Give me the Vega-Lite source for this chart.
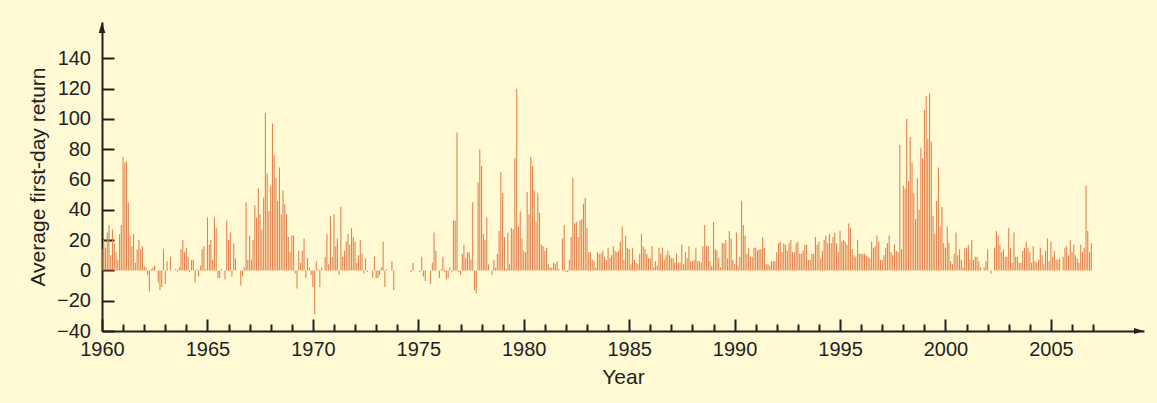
{
  "$schema": "https://vega.github.io/schema/vega-lite/v6.json",
  "width": 1042,
  "height": 309,
  "autosize": {"type": "none"},
  "padding": {"left": 102, "top": 22, "right": 13, "bottom": 72},
  "background": "#FFFAD3",
  "config": {
    "view": {"stroke": null},
    "font": "Liberation Sans",
    "axis": {"labelFont": "Liberation Sans", "titleFont": "Liberation Sans", "labelColor": "#231f20", "titleColor": "#231f20", "domainColor": "#231f20", "tickColor": "#231f20", "grid": false}
  },
  "datasets": {
    "ipo": [
{"d":"1960-01","r":14},{"d":"1960-02","r":20},{"d":"1960-03","r":15},{"d":"1960-04","r":25},{"d":"1960-05","r":30},{"d":"1960-06","r":10},{"d":"1960-07","r":27},{"d":"1960-08","r":18},{"d":"1960-09","r":12},{"d":"1960-10","r":7},{"d":"1960-11","r":24},{"d":"1960-12","r":30},
{"d":"1961-01","r":75},{"d":"1961-02","r":71},{"d":"1961-03","r":72},{"d":"1961-04","r":45},{"d":"1961-05","r":23},{"d":"1961-06","r":16},{"d":"1961-07","r":24},{"d":"1961-08","r":5},{"d":"1961-09","r":14},{"d":"1961-10","r":20},{"d":"1961-11","r":14},{"d":"1961-12","r":16},
{"d":"1962-01","r":3},{"d":"1962-02","r":2},{"d":"1962-03","r":-3},{"d":"1962-04","r":-14},{"d":"1962-05","r":1},{"d":"1962-06","r":2},{"d":"1962-07","r":3},{"d":"1962-08","r":0},{"d":"1962-09","r":-8},{"d":"1962-10","r":-13},{"d":"1962-11","r":-11},{"d":"1962-12","r":14},
{"d":"1963-01","r":-9},{"d":"1963-02","r":6},{"d":"1963-03","r":0},{"d":"1963-04","r":9},{"d":"1963-05","r":0},{"d":"1963-06","r":0},{"d":"1963-07","r":1},{"d":"1963-08","r":-1},{"d":"1963-09","r":2},{"d":"1963-10","r":14},{"d":"1963-11","r":20},{"d":"1963-12","r":12},
{"d":"1964-01","r":15},{"d":"1964-02","r":9},{"d":"1964-03","r":-1},{"d":"1964-04","r":7},{"d":"1964-05","r":7},{"d":"1964-06","r":-8},{"d":"1964-07","r":1},{"d":"1964-08","r":-4},{"d":"1964-09","r":3},{"d":"1964-10","r":14},{"d":"1964-11","r":16},{"d":"1964-12","r":1},
{"d":"1965-01","r":35},{"d":"1965-02","r":17},{"d":"1965-03","r":20},{"d":"1965-04","r":7},{"d":"1965-05","r":35},{"d":"1965-06","r":28},{"d":"1965-07","r":-5},{"d":"1965-08","r":-5},{"d":"1965-09","r":1},{"d":"1965-10","r":0},{"d":"1965-11","r":-6},{"d":"1965-12","r":33},
{"d":"1966-01","r":20},{"d":"1966-02","r":25},{"d":"1966-03","r":-4},{"d":"1966-04","r":18},{"d":"1966-05","r":8},{"d":"1966-06","r":0},{"d":"1966-07","r":0},{"d":"1966-08","r":-10},{"d":"1966-09","r":-4},{"d":"1966-10","r":2},{"d":"1966-11","r":45},{"d":"1966-12","r":7},
{"d":"1967-01","r":23},{"d":"1967-02","r":7},{"d":"1967-03","r":20},{"d":"1967-04","r":43},{"d":"1967-05","r":35},{"d":"1967-06","r":54},{"d":"1967-07","r":37},{"d":"1967-08","r":27},{"d":"1967-09","r":48},{"d":"1967-10","r":104},{"d":"1967-11","r":64},{"d":"1967-12","r":39},
{"d":"1968-01","r":56},{"d":"1968-02","r":97},{"d":"1968-03","r":76},{"d":"1968-04","r":61},{"d":"1968-05","r":46},{"d":"1968-06","r":68},{"d":"1968-07","r":37},{"d":"1968-08","r":53},{"d":"1968-09","r":44},{"d":"1968-10","r":37},{"d":"1968-11","r":22},{"d":"1968-12","r":12},
{"d":"1969-01","r":23},{"d":"1969-02","r":23},{"d":"1969-03","r":-2},{"d":"1969-04","r":-12},{"d":"1969-05","r":13},{"d":"1969-06","r":5},{"d":"1969-07","r":13},{"d":"1969-08","r":21},{"d":"1969-09","r":-5},{"d":"1969-10","r":8},{"d":"1969-11","r":2},{"d":"1969-12","r":-3},
{"d":"1970-01","r":-11},{"d":"1970-02","r":-29},{"d":"1970-03","r":6},{"d":"1970-04","r":1},{"d":"1970-05","r":-11},{"d":"1970-06","r":2},{"d":"1970-07","r":0},{"d":"1970-08","r":9},{"d":"1970-09","r":24},{"d":"1970-10","r":4},{"d":"1970-11","r":36},{"d":"1970-12","r":9},
{"d":"1971-01","r":37},{"d":"1971-02","r":16},{"d":"1971-03","r":21},{"d":"1971-04","r":-3},{"d":"1971-05","r":42},{"d":"1971-06","r":9},{"d":"1971-07","r":13},{"d":"1971-08","r":19},{"d":"1971-09","r":24},{"d":"1971-10","r":17},{"d":"1971-11","r":28},{"d":"1971-12","r":22},
{"d":"1972-01","r":19},{"d":"1972-02","r":5},{"d":"1972-03","r":10},{"d":"1972-04","r":20},{"d":"1972-05","r":11},{"d":"1972-06","r":-2},{"d":"1972-07","r":8},{"d":"1972-08","r":-1},{"d":"1972-09","r":0},{"d":"1972-10","r":0},{"d":"1972-11","r":-5},{"d":"1972-12","r":9},
{"d":"1973-01","r":-5},{"d":"1973-02","r":-5},{"d":"1973-03","r":-3},{"d":"1973-04","r":2},{"d":"1973-05","r":19},{"d":"1973-06","r":-11},{"d":"1973-07","r":1},{"d":"1973-10","r":6},{"d":"1973-11","r":-13},
{"d":"1974-09","r":-1},{"d":"1974-10","r":5},
{"d":"1975-02","r":-1},{"d":"1975-03","r":9},{"d":"1975-04","r":-4},{"d":"1975-05","r":-7},{"d":"1975-08","r":-9},{"d":"1975-09","r":5},{"d":"1975-10","r":25},{"d":"1975-11","r":13},
{"d":"1976-01","r":-5},{"d":"1976-02","r":1},{"d":"1976-03","r":9},{"d":"1976-04","r":-1},{"d":"1976-05","r":-6},{"d":"1976-06","r":-5},{"d":"1976-07","r":2},{"d":"1976-08","r":-1},{"d":"1976-09","r":33},{"d":"1976-10","r":33},{"d":"1976-11","r":91},{"d":"1976-12","r":-1},
{"d":"1977-01","r":-3},{"d":"1977-02","r":11},{"d":"1977-03","r":17},{"d":"1977-04","r":8},{"d":"1977-05","r":12},{"d":"1977-06","r":12},{"d":"1977-07","r":7},{"d":"1977-08","r":45},{"d":"1977-09","r":-13},{"d":"1977-10","r":-15},{"d":"1977-11","r":58},{"d":"1977-12","r":80},
{"d":"1978-01","r":69},{"d":"1978-02","r":24},{"d":"1978-03","r":20},{"d":"1978-04","r":35},{"d":"1978-05","r":4},{"d":"1978-06","r":0},{"d":"1978-07","r":-3},{"d":"1978-08","r":7},{"d":"1978-09","r":2},{"d":"1978-10","r":11},{"d":"1978-11","r":26},{"d":"1978-12","r":65},
{"d":"1979-01","r":51},{"d":"1979-02","r":22},{"d":"1979-03","r":1},{"d":"1979-04","r":25},{"d":"1979-05","r":4},{"d":"1979-06","r":28},{"d":"1979-07","r":27},{"d":"1979-08","r":74},{"d":"1979-09","r":120},{"d":"1979-10","r":29},{"d":"1979-11","r":39},{"d":"1979-12","r":21},
{"d":"1980-01","r":13},{"d":"1980-02","r":12},{"d":"1980-03","r":52},{"d":"1980-04","r":37},{"d":"1980-05","r":75},{"d":"1980-06","r":69},{"d":"1980-07","r":53},{"d":"1980-08","r":32},{"d":"1980-09","r":51},{"d":"1980-10","r":38},{"d":"1980-11","r":17},{"d":"1980-12","r":16},
{"d":"1981-01","r":13},{"d":"1981-02","r":15},{"d":"1981-03","r":4},{"d":"1981-04","r":2},{"d":"1981-05","r":2},{"d":"1981-06","r":5},{"d":"1981-07","r":4},{"d":"1981-08","r":6},{"d":"1981-09","r":1},{"d":"1981-10","r":0},{"d":"1981-11","r":21},{"d":"1981-12","r":30},
{"d":"1982-01","r":-1},{"d":"1982-02","r":-1},{"d":"1982-03","r":7},{"d":"1982-04","r":22},{"d":"1982-05","r":61},{"d":"1982-06","r":31},{"d":"1982-07","r":32},{"d":"1982-08","r":22},{"d":"1982-09","r":33},{"d":"1982-10","r":34},{"d":"1982-11","r":44},{"d":"1982-12","r":48},
{"d":"1983-01","r":28},{"d":"1983-02","r":12},{"d":"1983-03","r":12},{"d":"1983-04","r":7},{"d":"1983-05","r":6},{"d":"1983-06","r":2},{"d":"1983-07","r":12},{"d":"1983-08","r":11},{"d":"1983-09","r":11},{"d":"1983-10","r":13},{"d":"1983-11","r":9},{"d":"1983-12","r":7},
{"d":"1984-01","r":15},{"d":"1984-02","r":8},{"d":"1984-03","r":10},{"d":"1984-04","r":16},{"d":"1984-05","r":13},{"d":"1984-06","r":12},{"d":"1984-07","r":13},{"d":"1984-08","r":19},{"d":"1984-09","r":29},{"d":"1984-10","r":7},{"d":"1984-11","r":23},{"d":"1984-12","r":15},
{"d":"1985-01","r":14},{"d":"1985-02","r":4},{"d":"1985-03","r":15},{"d":"1985-04","r":7},{"d":"1985-05","r":5},{"d":"1985-06","r":4},{"d":"1985-07","r":11},{"d":"1985-08","r":24},{"d":"1985-09","r":16},{"d":"1985-10","r":14},{"d":"1985-11","r":11},{"d":"1985-12","r":8},
{"d":"1986-01","r":8},{"d":"1986-02","r":16},{"d":"1986-03","r":2},{"d":"1986-04","r":6},{"d":"1986-05","r":3},{"d":"1986-06","r":15},{"d":"1986-07","r":11},{"d":"1986-08","r":15},{"d":"1986-09","r":7},{"d":"1986-10","r":10},{"d":"1986-11","r":13},{"d":"1986-12","r":10},
{"d":"1987-01","r":8},{"d":"1987-02","r":8},{"d":"1987-03","r":5},{"d":"1987-04","r":11},{"d":"1987-05","r":5},{"d":"1987-06","r":5},{"d":"1987-07","r":17},{"d":"1987-08","r":4},{"d":"1987-09","r":12},{"d":"1987-10","r":8},{"d":"1987-11","r":16},{"d":"1987-12","r":6},
{"d":"1988-01","r":6},{"d":"1988-02","r":7},{"d":"1988-03","r":15},{"d":"1988-04","r":6},{"d":"1988-05","r":6},{"d":"1988-06","r":5},{"d":"1988-07","r":16},{"d":"1988-08","r":30},{"d":"1988-09","r":16},{"d":"1988-10","r":16},{"d":"1988-11","r":6},{"d":"1988-12","r":3},
{"d":"1989-01","r":32},{"d":"1989-02","r":14},{"d":"1989-03","r":13},{"d":"1989-04","r":8},{"d":"1989-05","r":2},{"d":"1989-06","r":18},{"d":"1989-07","r":18},{"d":"1989-08","r":20},{"d":"1989-09","r":8},{"d":"1989-10","r":26},{"d":"1989-11","r":21},{"d":"1989-12","r":7},
{"d":"1990-01","r":4},{"d":"1990-02","r":25},{"d":"1990-03","r":3},{"d":"1990-04","r":9},{"d":"1990-05","r":46},{"d":"1990-06","r":30},{"d":"1990-07","r":23},{"d":"1990-08","r":11},{"d":"1990-09","r":15},{"d":"1990-10","r":9},{"d":"1990-11","r":9},{"d":"1990-12","r":15},
{"d":"1991-01","r":15},{"d":"1991-02","r":13},{"d":"1991-03","r":14},{"d":"1991-04","r":14},{"d":"1991-05","r":22},{"d":"1991-06","r":15},{"d":"1991-07","r":4},{"d":"1991-08","r":4},{"d":"1991-09","r":3},{"d":"1991-10","r":6},{"d":"1991-11","r":6},{"d":"1991-12","r":6},
{"d":"1992-01","r":12},{"d":"1992-02","r":18},{"d":"1992-03","r":19},{"d":"1992-04","r":12},{"d":"1992-05","r":18},{"d":"1992-06","r":17},{"d":"1992-07","r":13},{"d":"1992-08","r":18},{"d":"1992-09","r":20},{"d":"1992-10","r":12},{"d":"1992-11","r":12},{"d":"1992-12","r":18},
{"d":"1993-01","r":19},{"d":"1993-02","r":11},{"d":"1993-03","r":11},{"d":"1993-04","r":13},{"d":"1993-05","r":17},{"d":"1993-06","r":17},{"d":"1993-07","r":7},{"d":"1993-08","r":7},{"d":"1993-09","r":11},{"d":"1993-10","r":11},{"d":"1993-11","r":22},{"d":"1993-12","r":17},
{"d":"1994-01","r":19},{"d":"1994-02","r":8},{"d":"1994-03","r":13},{"d":"1994-04","r":20},{"d":"1994-05","r":23},{"d":"1994-06","r":18},{"d":"1994-07","r":24},{"d":"1994-08","r":18},{"d":"1994-09","r":22},{"d":"1994-10","r":25},{"d":"1994-11","r":18},{"d":"1994-12","r":12},
{"d":"1995-01","r":26},{"d":"1995-02","r":19},{"d":"1995-03","r":20},{"d":"1995-04","r":19},{"d":"1995-05","r":17},{"d":"1995-06","r":31},{"d":"1995-07","r":28},{"d":"1995-08","r":14},{"d":"1995-09","r":10},{"d":"1995-10","r":9},{"d":"1995-11","r":20},{"d":"1995-12","r":11},
{"d":"1996-01","r":11},{"d":"1996-02","r":11},{"d":"1996-03","r":11},{"d":"1996-04","r":10},{"d":"1996-05","r":9},{"d":"1996-06","r":8},{"d":"1996-07","r":19},{"d":"1996-08","r":15},{"d":"1996-09","r":16},{"d":"1996-10","r":23},{"d":"1996-11","r":19},{"d":"1996-12","r":7},
{"d":"1997-01","r":7},{"d":"1997-02","r":10},{"d":"1997-03","r":15},{"d":"1997-04","r":18},{"d":"1997-05","r":23},{"d":"1997-06","r":12},{"d":"1997-07","r":10},{"d":"1997-08","r":17},{"d":"1997-09","r":13},{"d":"1997-10","r":12},{"d":"1997-11","r":83},{"d":"1997-12","r":14},
{"d":"1998-01","r":56},{"d":"1998-02","r":54},{"d":"1998-03","r":100},{"d":"1998-04","r":59},{"d":"1998-05","r":88},{"d":"1998-06","r":71},{"d":"1998-07","r":51},{"d":"1998-08","r":34},{"d":"1998-09","r":61},{"d":"1998-10","r":40},{"d":"1998-11","r":81},{"d":"1998-12","r":74},
{"d":"1999-01","r":106},{"d":"1999-02","r":115},{"d":"1999-03","r":87},{"d":"1999-04","r":117},{"d":"1999-05","r":85},{"d":"1999-06","r":36},{"d":"1999-07","r":24},{"d":"1999-08","r":46},{"d":"1999-09","r":68},{"d":"1999-10","r":29},{"d":"1999-11","r":42},{"d":"1999-12","r":18},
{"d":"2000-01","r":15},{"d":"2000-02","r":29},{"d":"2000-03","r":18},{"d":"2000-04","r":6},{"d":"2000-05","r":4},{"d":"2000-06","r":11},{"d":"2000-07","r":25},{"d":"2000-08","r":10},{"d":"2000-09","r":14},{"d":"2000-10","r":7},{"d":"2000-11","r":2},{"d":"2000-12","r":15},
{"d":"2001-01","r":15},{"d":"2001-02","r":17},{"d":"2001-03","r":7},{"d":"2001-04","r":20},{"d":"2001-05","r":7},{"d":"2001-06","r":9},{"d":"2001-07","r":9},{"d":"2001-08","r":6},{"d":"2001-09","r":2},{"d":"2001-11","r":2},{"d":"2001-12","r":6},
{"d":"2002-01","r":14},{"d":"2002-03","r":-2},{"d":"2002-04","r":0},{"d":"2002-05","r":15},{"d":"2002-06","r":26},{"d":"2002-07","r":23},{"d":"2002-08","r":17},{"d":"2002-09","r":12},{"d":"2002-10","r":14},{"d":"2002-11","r":9},{"d":"2002-12","r":9},
{"d":"2003-01","r":28},{"d":"2003-02","r":15},{"d":"2003-03","r":5},{"d":"2003-04","r":25},{"d":"2003-05","r":9},{"d":"2003-06","r":9},{"d":"2003-07","r":5},{"d":"2003-08","r":5},{"d":"2003-09","r":13},{"d":"2003-10","r":15},{"d":"2003-11","r":19},{"d":"2003-12","r":15},
{"d":"2004-01","r":12},{"d":"2004-02","r":5},{"d":"2004-03","r":16},{"d":"2004-04","r":6},{"d":"2004-05","r":5},{"d":"2004-06","r":7},{"d":"2004-07","r":15},{"d":"2004-08","r":10},{"d":"2004-09","r":4},{"d":"2004-10","r":13},{"d":"2004-11","r":21},{"d":"2004-12","r":6},
{"d":"2005-01","r":19},{"d":"2005-02","r":9},{"d":"2005-03","r":13},{"d":"2005-04","r":7},{"d":"2005-05","r":7},{"d":"2005-06","r":8},{"d":"2005-08","r":9},{"d":"2005-09","r":15},{"d":"2005-10","r":16},{"d":"2005-11","r":10},{"d":"2005-12","r":20},
{"d":"2006-01","r":12},{"d":"2006-02","r":17},{"d":"2006-03","r":10},{"d":"2006-04","r":8},{"d":"2006-05","r":5},{"d":"2006-06","r":17},{"d":"2006-07","r":12},{"d":"2006-08","r":15},{"d":"2006-09","r":56},{"d":"2006-10","r":26},{"d":"2006-11","r":12},{"d":"2006-12","r":18}
    ]
  },
  "resolve": {"axis": {"x": "independent", "y": "independent"}},
  "layer": [
    {
      "data": {"name": "ipo"},
      "mark": {"type": "rule", "color": "#E3834F", "strokeWidth": 1.1},
      "encoding": {
        "x": {
          "field": "d", "type": "temporal",
          "scale": {"type": "utc", "domain": [{"year": 1960, "month": 1, "date": 1, "utc": true}, {"year": 2009, "month": 6, "date": 1, "utc": true}]},
          "axis": {
            "orient": "bottom",
            "values": [{"year": 1960, "utc": true}, {"year": 1965, "utc": true}, {"year": 1970, "utc": true}, {"year": 1975, "utc": true}, {"year": 1980, "utc": true}, {"year": 1985, "utc": true}, {"year": 1990, "utc": true}, {"year": 1995, "utc": true}, {"year": 2000, "utc": true}, {"year": 2005, "utc": true}],
            "format": "%Y",
            "tickSize": -12, "tickWidth": 2, "domainWidth": 2,
            "labelFontSize": 20, "labelPadding": 20, "labelFlush": false, "labelOverlap": false,
            "title": "Year", "titleFontSize": 21, "titleFontWeight": "normal", "titlePadding": 7
          }
        },
        "y": {
          "field": "r", "type": "quantitative",
          "scale": {"domain": [-40, 164], "nice": false, "zero": false},
          "axis": {
            "orient": "left",
            "values": [-40, -20, 0, 20, 40, 60, 80, 100, 120, 140],
            "tickSize": -12, "tickWidth": 2, "domainWidth": 2,
            "labelFontSize": 20, "labelPadding": 23.5, "labelFlush": false, "labelOverlap": false,
            "title": "Average first-day return", "titleFontSize": 21, "titleFontWeight": "normal", "titlePadding": 8
          }
        },
        "y2": {"datum": 0}
      }
    },
    {
      "data": {"values": [{}]},
      "mark": {"type": "point", "shape": "M0,0L0.3,1L-0.3,1Z", "filled": true, "size": 484, "color": "#231f20", "opacity": 1, "strokeWidth": 0},
      "encoding": {
        "x": {
          "datum": {"year": 1960, "month": 1, "date": 1, "utc": true}, "type": "temporal",
          "axis": {
            "orient": "bottom",
            "values": [{"year": 1961, "utc": true}, {"year": 1962, "utc": true}, {"year": 1963, "utc": true}, {"year": 1964, "utc": true}, {"year": 1966, "utc": true}, {"year": 1967, "utc": true}, {"year": 1968, "utc": true}, {"year": 1969, "utc": true}, {"year": 1971, "utc": true}, {"year": 1972, "utc": true}, {"year": 1973, "utc": true}, {"year": 1974, "utc": true}, {"year": 1976, "utc": true}, {"year": 1977, "utc": true}, {"year": 1978, "utc": true}, {"year": 1979, "utc": true}, {"year": 1981, "utc": true}, {"year": 1982, "utc": true}, {"year": 1983, "utc": true}, {"year": 1984, "utc": true}, {"year": 1986, "utc": true}, {"year": 1987, "utc": true}, {"year": 1988, "utc": true}, {"year": 1989, "utc": true}, {"year": 1991, "utc": true}, {"year": 1992, "utc": true}, {"year": 1993, "utc": true}, {"year": 1994, "utc": true}, {"year": 1996, "utc": true}, {"year": 1997, "utc": true}, {"year": 1998, "utc": true}, {"year": 1999, "utc": true}, {"year": 2001, "utc": true}, {"year": 2002, "utc": true}, {"year": 2003, "utc": true}, {"year": 2004, "utc": true}, {"year": 2006, "utc": true}, {"year": 2007, "utc": true}],
            "tickSize": -7, "tickWidth": 2, "domain": false, "labels": false, "title": null
          }
        },
        "y": {"datum": 164, "type": "quantitative", "axis": null}
      }
    },
    {
      "data": {"values": [{}]},
      "mark": {"type": "point", "shape": "M0,0L-1,-0.3L-1,0.3Z", "filled": true, "size": 400, "color": "#231f20", "opacity": 1, "strokeWidth": 0},
      "encoding": {
        "x": {"datum": {"year": 2009, "month": 6, "date": 1, "utc": true}, "type": "temporal", "axis": null},
        "y": {"datum": -40, "type": "quantitative", "axis": null}
      }
    }
  ]
}
